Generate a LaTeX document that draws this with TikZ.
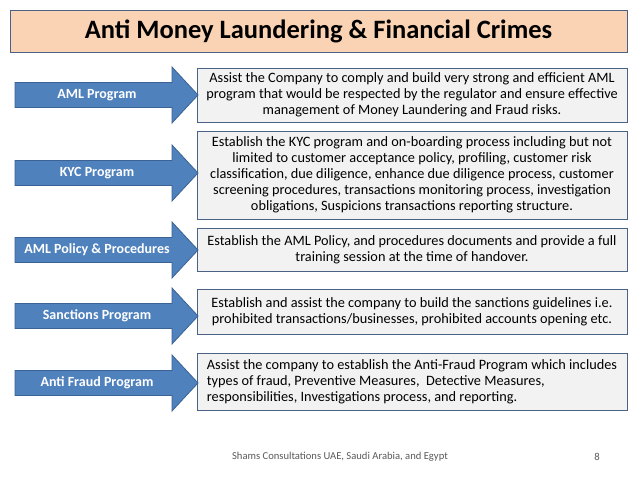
\documentclass[tikz,border=0pt]{standalone}
\usepackage{fontspec}
\setmainfont{Carlito}
\definecolor{peach}{HTML}{FAD3B5}
\definecolor{frame}{HTML}{4A6384}
\definecolor{arrfill}{HTML}{4F81BD}
\definecolor{arrline}{HTML}{3A6294}
\definecolor{boxfill}{HTML}{F2F2F2}
\tikzset{
 arr/.style={fill=arrfill,draw=arrline,line width=0.8pt},
 lab/.style={text=white,font=\fontsize{14}{16}\selectfont\bfseries},
 desc/.style={draw=frame,fill=boxfill,line width=0.8pt,align=center,font=\fontsize{14.3}{16}\selectfont,inner sep=3pt}
}
\newcommand{\myarrow}[3]{% y center, name, text
 \draw[arr] (15,#1+12.5) -- (172,#1+12.5) -- (172,#1+28) -- (198,#1) -- (172,#1-28) -- (172,#1-12.5) -- (15,#1-12.5) -- cycle;
 \node[lab] (#2) at (97,#1) {#3};}
\begin{document}
\begin{tikzpicture}[x=1pt,y=-1pt]
\useasboundingbox (0,0) rectangle (638,479);
\node[draw=frame,fill=peach,line width=1pt,minimum width=617pt,minimum height=42pt,font=\fontsize{26.5}{30}\selectfont\bfseries] (title) at (318.5,31) {Anti Money Laundering \& Financial Crimes};
\node[desc,minimum width=430pt,minimum height=54pt] (b1) at (412,95) {Assist the Company to comply and build very strong and efficient AML\\program that would be respected by the regulator and ensure effective\\management of Money Laundering and Fraud risks.};
\node[desc,minimum width=430pt,minimum height=88pt] (b2) at (412,175) {Establish the KYC program and on-boarding process including but not\\limited to customer acceptance policy, profiling, customer risk\\classification, due diligence, enhance due diligence process, customer\\screening procedures, transactions monitoring process, investigation\\obligations, Suspicions transactions reporting structure.};
\node[desc,minimum width=430pt,minimum height=43pt] (b3) at (412,249.5) {Establish the AML Policy, and procedures documents and provide a full\\training session at the time of handover.};
\node[desc,minimum width=430pt,minimum height=45pt] (b4) at (412,311.5) {Establish and assist the company to build the sanctions guidelines i.e.\\prohibited transactions/businesses, prohibited accounts opening etc.};
\node[desc,minimum width=430pt,minimum height=57pt,align=left] (b5) at (412,381.5) {Assist the company to establish the Anti-Fraud Program which includes\\types of fraud, Preventive Measures,\ \ Detective Measures,\\responsibilities, Investigations process, and reporting.};
\myarrow{95}{a1}{AML Program}
\myarrow{173}{a2}{KYC Program}
\myarrow{250}{a3}{AML Policy \& Procedures}
\myarrow{316}{a4}{Sanctions Program}
\myarrow{383}{a5}{Anti Fraud Program}
\node[text=gray!70!black,font=\fontsize{10.6}{12}\selectfont] (foot) at (340,457) {Shams Consultations UAE, Saudi Arabia, and Egypt};
\node[text=gray!70!black,font=\fontsize{10.6}{12}\selectfont] (pg) at (597,457) {8};
\end{tikzpicture}
\end{document}
